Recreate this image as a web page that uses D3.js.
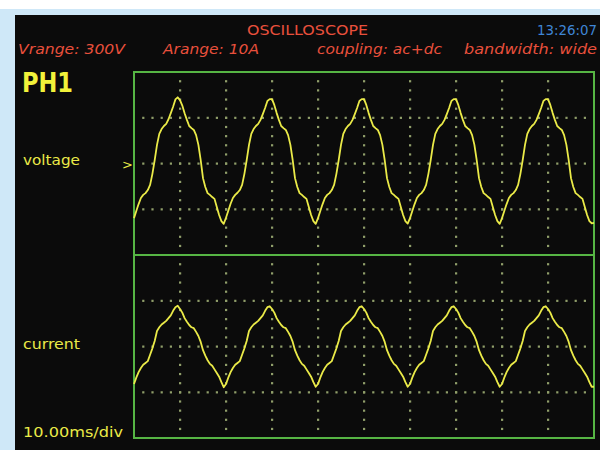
<!DOCTYPE html>
<html>
<head>
<meta charset="utf-8">
<script src="https://d3js.org/d3.v7.min.js"></script>
<style>
body { margin: 0; background: #ffffff; }
text { font-family: "DejaVu Sans", sans-serif; }
</style>
</head>
<body>
<script>
// header labels
var title = "OSCILLOSCOPE"
var clock = "13:26:07"
var settings = ["Vrange: 300V", "Arange: 10A", "coupling: ac+dc", "bandwidth: wide"]
var channel = "PH1"
var traceNames = ["voltage", "current"]
var timebase = "10.00ms/div"

// samples every 0.5 ms, 100 ms on screen (5 cycles)
var sampleMs = 0.5
var voltage = [
  -179,-156,-133,-113,-103,-97,-87,-70,-34,11,61,97,113,123,130,145,165,186,210,217,
  208,190,165,143,123,116,110,93,61,11,-48,-77,-97,-103,-110,-116,-143,-169,-189,-198,
  -178,-155,-132,-113,-103,-96,-87,-70,-34,11,61,97,113,123,130,143,162,182,205,211,
  211,192,166,143,123,116,110,93,61,11,-48,-77,-97,-103,-110,-116,-143,-169,-189,-198,
  -179,-156,-133,-113,-103,-97,-87,-70,-34,11,61,97,113,123,130,143,162,182,205,211,
  211,192,166,143,123,116,110,93,61,11,-48,-77,-97,-103,-110,-116,-143,-169,-189,-197,
  -179,-156,-133,-113,-103,-97,-87,-70,-34,11,61,97,113,123,130,143,162,182,205,211,
  211,192,166,143,123,116,110,93,61,11,-48,-77,-97,-103,-110,-116,-143,-169,-189,-198,
  -179,-156,-133,-113,-103,-97,-87,-70,-34,11,61,97,113,123,130,143,162,182,205,211,
  211,192,166,143,123,116,110,93,61,11,-48,-77,-97,-103,-110,-116,-143,-169,-189,-196,
  -195
]
var current = [
  -4.1,-3.4,-2.8,-2.35,-2.0,-1.8,-1.6,-0.9,-0.2,0.6,1.7,2.1,2.4,2.6,2.8,3.1,3.4,3.9,4.3,4.45,
  4.1,3.7,3.1,2.7,2.35,2.1,2.0,1.6,1.15,0.5,-0.4,-1.0,-1.5,-1.9,-2.1,-2.5,-2.9,-3.3,-3.9,-4.45,
  -4.1,-3.4,-2.8,-2.35,-2.0,-1.8,-1.6,-0.9,-0.2,0.6,1.7,2.1,2.4,2.6,2.8,3.1,3.4,3.9,4.3,4.4,
  4.1,3.7,3.1,2.7,2.35,2.1,2.0,1.6,1.15,0.5,-0.4,-1.0,-1.5,-1.9,-2.1,-2.5,-2.9,-3.3,-3.9,-4.4,
  -4.1,-3.4,-2.8,-2.35,-2.0,-1.8,-1.6,-0.9,-0.2,0.6,1.7,2.1,2.4,2.6,2.8,3.1,3.4,3.9,4.3,4.4,
  4.1,3.7,3.1,2.7,2.35,2.1,2.0,1.6,1.15,0.5,-0.4,-1.0,-1.5,-1.9,-2.1,-2.5,-2.9,-3.3,-3.9,-4.4,
  -4.1,-3.4,-2.8,-2.35,-2.0,-1.8,-1.6,-0.9,-0.2,0.6,1.7,2.1,2.4,2.6,2.8,3.1,3.4,3.9,4.3,4.4,
  4.1,3.7,3.1,2.7,2.35,2.1,2.0,1.6,1.15,0.5,-0.4,-1.0,-1.5,-1.9,-2.1,-2.5,-2.9,-3.3,-3.9,-4.4,
  -4.1,-3.4,-2.8,-2.35,-2.0,-1.8,-1.6,-0.9,-0.2,0.6,1.7,2.1,2.4,2.6,2.8,3.1,3.4,3.9,4.3,4.4,
  4.1,3.7,3.1,2.7,2.35,2.1,2.0,1.6,1.15,0.5,-0.4,-1.0,-1.5,-1.9,-2.1,-2.5,-2.9,-3.3,-3.9,-4.4,
  -4.4
]

var w = 600
var h = 450
var red = "#e8503c"
var yellow = "#eaea48"
var green = "#56b544"
var dotColor = "#909e6a"

var svg = d3.select("body")
            .append("svg")
            .attr("width", w)
            .attr("height", h)

// frame around the screen
svg.append("rect").attr("width", w).attr("height", h).attr("fill", "#cfe8f8")
svg.append("rect").attr("width", w).attr("height", 9).attr("fill", "#ffffff")
svg.append("rect").attr("x", 15).attr("y", 15).attr("width", w - 15).attr("height", h - 15)
   .attr("fill", "#0b0b0b")

var x = d3.scaleLinear().domain([0, 100]).range([134, 594])
var yV = d3.scaleLinear().domain([-300, 300]).range([255, 72])
var yI = d3.scaleLinear().domain([-10, 10]).range([438, 255])

// dotted graticule: 10 x 4 divisions per panel, 5 dots per division
function graticule(y) {
    var g = svg.append("g")
    var yDom = y.domain()
    var yStep = (yDom[1] - yDom[0]) / 4
    var vLines = d3.range(10, 100, 10)
    var hLines = d3.range(yDom[0] + yStep, yDom[1] - yStep / 2, yStep)
    var dots = []
    vLines.forEach(function(t) {
        d3.range(1, 20).forEach(function(k) {
            dots.push([t, yDom[0] + k * yStep / 5])
        })
    })
    hLines.forEach(function(v) {
        d3.range(1, 50).forEach(function(k) {
            dots.push([k * 2, v])
        })
    })
    g.selectAll("rect")
     .data(dots)
     .enter()
     .append("rect")
     .attr("x", function(d) { return x(d[0]) - 1 })
     .attr("y", function(d) { return y(d[1]) - 1 })
     .attr("width", 2.2)
     .attr("height", 2.2)
     .attr("fill", dotColor)
}
graticule(yV)
graticule(yI)

// panel borders
svg.append("rect")
   .attr("x", x(0)).attr("y", yV(300))
   .attr("width", x(100) - x(0)).attr("height", yI(-10) - yV(300))
   .attr("fill", "none").attr("stroke", green).attr("stroke-width", 2)
svg.append("line")
   .attr("x1", x(0)).attr("x2", x(100))
   .attr("y1", yV(-300)).attr("y2", yV(-300))
   .attr("stroke", green).attr("stroke-width", 2)

// traces
function trace(values, y) {
    var line = d3.line()
                 .x(function(d, i) { return x(i * sampleMs) })
                 .y(function(d) { return y(d) })
    svg.append("path")
       .attr("d", line(values))
       .attr("fill", "none")
       .attr("stroke", yellow)
       .attr("stroke-width", 1.8)
       .attr("stroke-linejoin", "round")
}
trace(voltage, yV)
trace(current, yI)

// header text
svg.append("text").text(title)
   .attr("x", 247).attr("y", 35)
   .attr("textLength", 121).attr("lengthAdjust", "spacingAndGlyphs")
   .attr("font-size", 14).attr("fill", red)
svg.append("text").text(clock)
   .attr("x", 537).attr("y", 35)
   .attr("textLength", 60).attr("lengthAdjust", "spacingAndGlyphs")
   .attr("font-size", 14).attr("fill", "#3f86d6")

var setX = [18, 163, 317, 464]
var setW = [107, 96, 125, 133]
svg.selectAll(".setting")
   .data(settings)
   .enter()
   .append("text")
   .attr("class", "setting")
   .text(function(d) { return d })
   .attr("x", function(d, i) { return setX[i] })
   .attr("y", 54)
   .attr("textLength", function(d, i) { return setW[i] })
   .attr("lengthAdjust", "spacingAndGlyphs")
   .attr("font-size", 14)
   .attr("font-style", "italic")
   .attr("fill", red)

svg.append("text").text(channel)
   .attr("x", 22).attr("y", 92)
   .attr("textLength", 51).attr("lengthAdjust", "spacingAndGlyphs")
   .attr("font-size", 27).attr("font-weight", "bold").attr("fill", "#f2f23a")

svg.append("text").text(traceNames[0])
   .attr("x", 23).attr("y", 165)
   .attr("textLength", 57).attr("lengthAdjust", "spacingAndGlyphs")
   .attr("font-size", 14).attr("fill", yellow)
svg.append("text").text(">")
   .attr("x", 122).attr("y", yV(0) + 5)
   .attr("font-size", 13).attr("fill", yellow)
svg.append("text").text(traceNames[1])
   .attr("x", 23).attr("y", 349)
   .attr("textLength", 57).attr("lengthAdjust", "spacingAndGlyphs")
   .attr("font-size", 14).attr("fill", yellow)
svg.append("text").text(timebase)
   .attr("x", 23).attr("y", 437)
   .attr("textLength", 100).attr("lengthAdjust", "spacingAndGlyphs")
   .attr("font-size", 14).attr("fill", yellow)
</script>
</body>
</html>
